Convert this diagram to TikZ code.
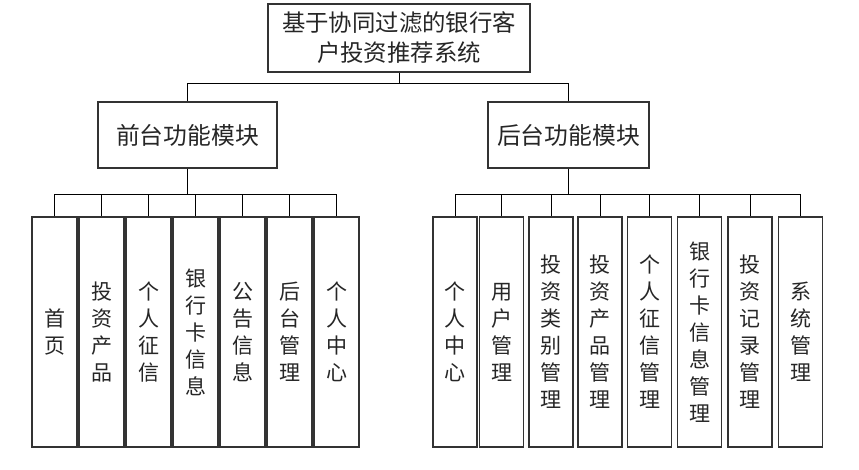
\documentclass[tikz,border=0pt]{standalone}
\usepackage{fontspec}
\setmainfont{Noto Sans CJK SC}
\begin{document}
\begin{tikzpicture}[x=1pt,y=-1pt,
  box/.style={draw=black!80, line width=1.2pt, fill=white, inner sep=0pt, text=black!85, align=center},
  topbox/.style={box, minimum width=262pt, minimum height=68pt, font=\fontsize{23.4}{30}\selectfont},
  modbox/.style={box, minimum width=179pt, minimum height=66pt, font=\fontsize{23.8}{28}\selectfont},
  leaf/.style={box, minimum width=45pt, minimum height=230pt, text width=45pt, font=\fontsize{21}{27}\selectfont},
  link/.style={draw=black, line width=0.9pt}]
\useasboundingbox (0,0) rectangle (859,469);
\fill[white] (0,0) rectangle (859,469);
\path (0,83) coordinate (h1) (0,194) coordinate (h2);
\node[topbox] (top) at (399,38) {基于协同过滤的银行客\\户投资推荐系统};
\node[modbox] (front) at (187.5,135) {前台功能模块};
\node[box, minimum width=161pt, minimum height=66pt, font=\fontsize{23.8}{28}\selectfont] (back) at (568.5,135) {后台功能模块};
% left leaves
\node[leaf] (l1) at (54.5,332) {首\\页};
\node[leaf] (l2) at (101.5,332) {投\\资\\产\\品};
\node[leaf] (l3) at (148.5,332) {个\\人\\征\\信};
\node[leaf] (l4) at (195.5,332) {银\\行\\卡\\信\\息};
\node[leaf] (l5) at (242.5,332) {公\\告\\信\\息};
\node[leaf] (l6) at (289.5,332) {后\\台\\管\\理};
\node[leaf] (l7) at (336.5,332) {个\\人\\中\\心};
% right leaves
\node[leaf, minimum width=44pt, text width=44pt] (r1) at (455,332) {个\\人\\中\\心};
\node[leaf, minimum width=44pt, text width=44pt] (r2) at (501.5,332) {用\\户\\管\\理};
\node[leaf, minimum width=44pt, text width=44pt] (r3) at (551,332) {投\\资\\类\\别\\管\\理};
\node[leaf, minimum width=44pt, text width=44pt] (r4) at (600,332) {投\\资\\产\\品\\管\\理};
\node[leaf, minimum width=44pt, text width=44pt] (r5) at (649.5,332) {个\\人\\征\\信\\管\\理};
\node[leaf, minimum width=44pt, text width=44pt] (r6) at (699.5,332) {银\\行\\卡\\信\\息\\管\\理};
\node[leaf, minimum width=44pt, text width=44pt] (r7) at (750,332) {投\\资\\记\\录\\管\\理};
\node[leaf, minimum width=44pt, text width=44pt] (r8) at (800.5,332) {系\\统\\管\\理};
% connectors
\draw[link] (top.south) -- (top.south |- h1) -| (front.north);
\draw[link] (top.south |- h1) -| (back.north);
\draw[link] (front.south) -- (front.south |- h2);
\foreach \n in {l1,l2,l3,l4,l5,l6,l7}
  \draw[link] (front.south |- h2) -| (\n.north);
\draw[link] (back.south) -- (back.south |- h2);
\foreach \n in {r1,r2,r3,r4,r5,r6,r7,r8}
  \draw[link] (back.south |- h2) -| (\n.north);
\end{tikzpicture}
\end{document}
